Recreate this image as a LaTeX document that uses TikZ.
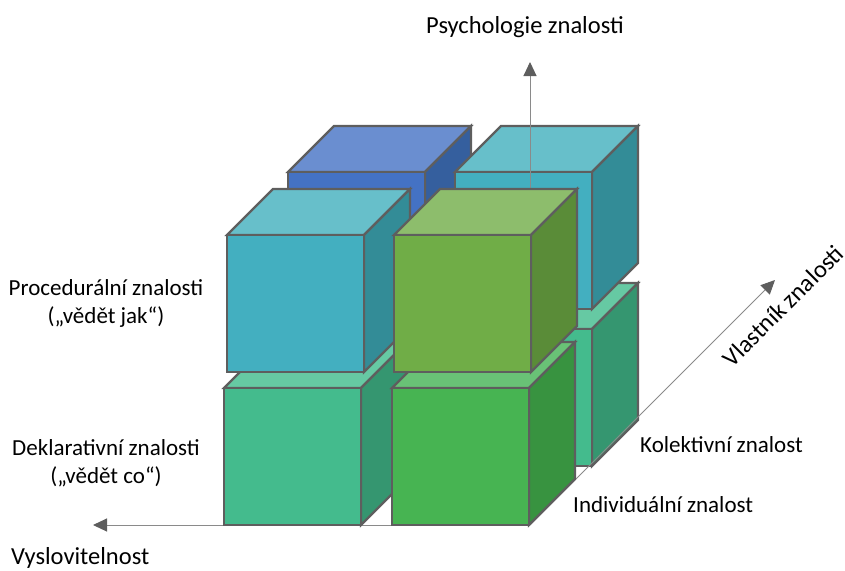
\documentclass[tikz,border=0pt]{standalone}
\usepackage{fontspec}
\setmainfont{Carlito}
\usetikzlibrary{arrows.meta}

% face colours: F = front, T = top, S = side
\definecolor{blueF}{HTML}{4472C4}\definecolor{blueT}{HTML}{6A8ED0}\definecolor{blueS}{HTML}{355F9E}
\definecolor{tealF}{HTML}{43AFC0}\definecolor{tealT}{HTML}{67BFCA}\definecolor{tealS}{HTML}{338C97}
\definecolor{oliveF}{HTML}{70AD47}\definecolor{oliveT}{HTML}{8DBD6C}\definecolor{oliveS}{HTML}{5A8C38}
\definecolor{seaF}{HTML}{44BB8D}\definecolor{seaT}{HTML}{66C9A3}\definecolor{seaS}{HTML}{359670}
\definecolor{grnF}{HTML}{47B452}\definecolor{grnT}{HTML}{69C276}\definecolor{grnS}{HTML}{389340}
\definecolor{edgegray}{HTML}{5E5E5E}
\definecolor{axisgray}{HTML}{8A8A8A}
\definecolor{tipgray}{HTML}{5E5E5E}

% one cube: #1,#2 = lower-left corner of the front face, #3 = palette
\newcommand\kostka[3]{%
  \draw[cubeedge, fill=#3T] (#1,#2-137) -- ++(46,-46) -- ++(137,0) -- ++(-46,46) -- cycle;
  \draw[cubeedge, fill=#3S] (#1+137,#2) -- ++(46,-46) -- ++(0,-137) -- ++(-46,46) -- cycle;
  \draw[cubeedge, fill=#3F] (#1,#2) rectangle ++(137,-137);
}

\begin{document}
\begin{tikzpicture}[x=1pt, y=-1pt,
  cubeedge/.style={draw=edgegray, line width=2.2pt, line join=miter},
  axis/.style={draw=axisgray, line width=1pt,
    -{Triangle[length=14pt, width=13pt, color=tipgray]}},
  lbl/.style={font=\fontsize{23}{28}\selectfont, text=black, inner sep=0pt, align=center},
  axlbl/.style={lbl, font=\fontsize{24.5}{29}\selectfont}]
\useasboundingbox (0,0) rectangle (845,570);

% axis ends
\coordinate (O) at (530,525);
\coordinate (upEnd) at (530,62);
\coordinate (leftEnd) at (93,525);
\coordinate (diagEnd) at (775,280);

% back layer
\kostka{455}{466}{sea}
\kostka{288}{309}{blue}
\kostka{455}{309}{teal}

% axes
\draw[axis] (O) -- (upEnd);
\draw[axis] (O) -- (leftEnd);
\draw[axis] (O) -- (diagEnd);

% front layer
\kostka{224}{525}{sea}
\kostka{392}{525}{grn}
\kostka{227}{372}{teal}
\kostka{394}{372}{olive}

% labels
\node[axlbl, anchor=base] (psych) at (525,33) {Psychologie znalosti};
\node[lbl] (proc) at (106,303) {Procedurální znalosti\\(„vědět jak“)};
\node[lbl] (dekl) at (106,463) {Deklarativní znalosti\\(„vědět co“)};
\node[axlbl, anchor=base west] (vysl) at (11,564) {Vyslovitelnost};
\node[lbl, anchor=base west] (indiv) at (573,512) {Individuální znalost};
\node[lbl, anchor=base west] (kolek) at (640,452) {Kolektivní znalost};
\node[axlbl, rotate=45] (vlast) at (783,306) {Vlastník znalosti};
\end{tikzpicture}
\end{document}
